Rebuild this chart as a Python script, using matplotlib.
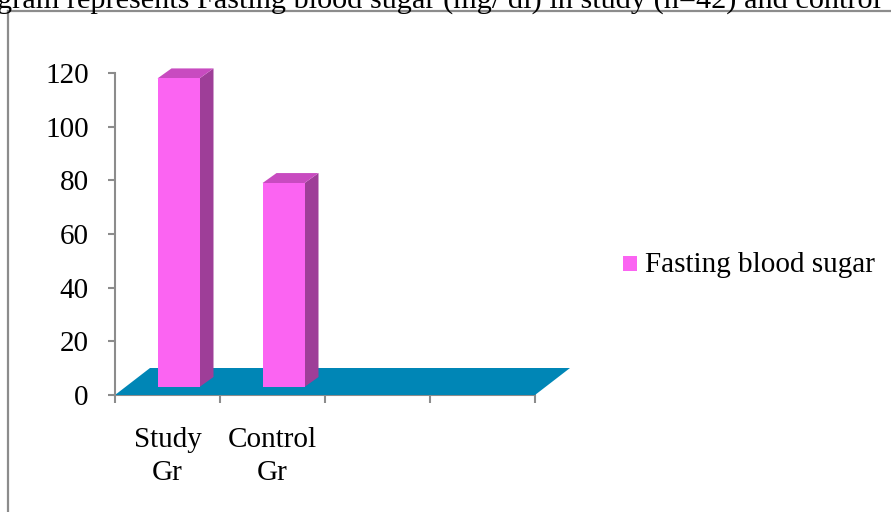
import matplotlib
matplotlib.use("Agg")
import matplotlib.pyplot as plt
from matplotlib.patches import Rectangle, Polygon
from matplotlib.lines import Line2D

# Data
categories = ["Study\nGr", "Control\nGr"]
fasting_sugar = [115, 76]
y_ticks = [0, 20, 40, 60, 80, 100, 120]
series_name = "Fasting blood sugar"
title = "gram represents Fasting blood sugar (mg/ dl) in study (n=42) and control"

FONT = "Liberation Serif"
GRAY = "#8c8c8c"
FRONT = "#fb64f2"
TOP = "#c84bc0"
SIDE = "#9e3e98"
FLOOR = "#0086b6"
FS = 21

W, H = 891, 512
fig = plt.figure(figsize=(W / 100, H / 100), dpi=100)

# plot area in pixel terms
left_px, right_px, top_px, bottom_px = 115, 535, 73, 395
ax = fig.add_axes([left_px / W, (H - bottom_px) / H,
                   (right_px - left_px) / W, (bottom_px - top_px) / H])
n_slots = 4
ax.set_xlim(0, n_slots)
ax.set_ylim(0, 120)
ax.patch.set_visible(False)

px_x = (right_px - left_px) / n_slots
px_y = (bottom_px - top_px) / 120.0

# floor
fdx, fdy = 35 / px_x, 27 / px_y
floor = Polygon([(0, 0), (n_slots, 0), (n_slots + fdx, fdy), (fdx, fdy)],
                closed=True, facecolor=FLOOR, edgecolor="none",
                zorder=1, clip_on=False)
ax.add_patch(floor)

# 3D-style columns
ox, oy = 11 / px_x, 8 / px_y
half = 21 / px_x
ddx, ddy = 14 / px_x, 10 / px_y
for i, v in enumerate(fasting_sugar):
    cx = i + 0.5 + ox
    y0, y1 = oy, oy + v
    front = Rectangle((cx - half, y0), 2 * half, v, facecolor=FRONT,
                      edgecolor="none", zorder=3, clip_on=False)
    side = Polygon([(cx + half, y0), (cx + half + ddx, y0 + ddy),
                    (cx + half + ddx, y1 + ddy), (cx + half, y1)],
                   closed=True, facecolor=SIDE, edgecolor="none",
                   zorder=2, clip_on=False)
    top = Polygon([(cx - half, y1), (cx + half, y1),
                   (cx + half + ddx, y1 + ddy), (cx - half + ddx, y1 + ddy)],
                  closed=True, facecolor=TOP, edgecolor="none",
                  zorder=2, clip_on=False)
    for p in (side, top, front):
        ax.add_patch(p)

# axes styling
for s in ("top", "right"):
    ax.spines[s].set_visible(False)
for s in ("left", "bottom"):
    ax.spines[s].set_color(GRAY)
    ax.spines[s].set_linewidth(1.5)
ax.spines["bottom"].set_zorder(0.5)

ax.set_yticks(y_ticks)
ax.set_yticklabels([str(t) for t in y_ticks], fontfamily=FONT, fontsize=FS)
ax.tick_params(axis="y", direction="out", length=5, width=1.5,
               color=GRAY, pad=14)

ax.set_xticks(range(n_slots + 1))
ax.set_xticklabels([""] * (n_slots + 1))
ax.tick_params(axis="x", which="major", direction="out", length=6,
               width=1.5, color=GRAY)
ax.set_xticks([i + 0.5 for i in range(len(categories))], minor=True)
ax.set_xticklabels(categories, minor=True, fontfamily=FONT, fontsize=FS,
                   linespacing=1.35)
ax.tick_params(axis="x", which="minor", length=0, pad=23)

# legend
fig.patches.append(Rectangle((623 / W, (H - 271) / H), 14 / W, 15 / H,
                             transform=fig.transFigure, facecolor=FRONT,
                             edgecolor="none"))
fig.text(645 / W, (H - 265) / H, series_name, fontfamily=FONT, fontsize=FS,
         va="center", ha="left")

# chart frame
fig.add_artist(Line2D([8 / W, 8 / W], [0, (H - 11) / H], color=GRAY,
                      lw=1.6, transform=fig.transFigure))
fig.add_artist(Line2D([8 / W, 1], [(H - 11) / H, (H - 11) / H], color=GRAY,
                      lw=1.6, transform=fig.transFigure))

# caption running off the top edge
fig.text(-3 / W, (H - 8) / H, title, fontfamily=FONT, fontsize=21.8,
         va="baseline", ha="left")

fig.savefig("out.png", dpi=100)
